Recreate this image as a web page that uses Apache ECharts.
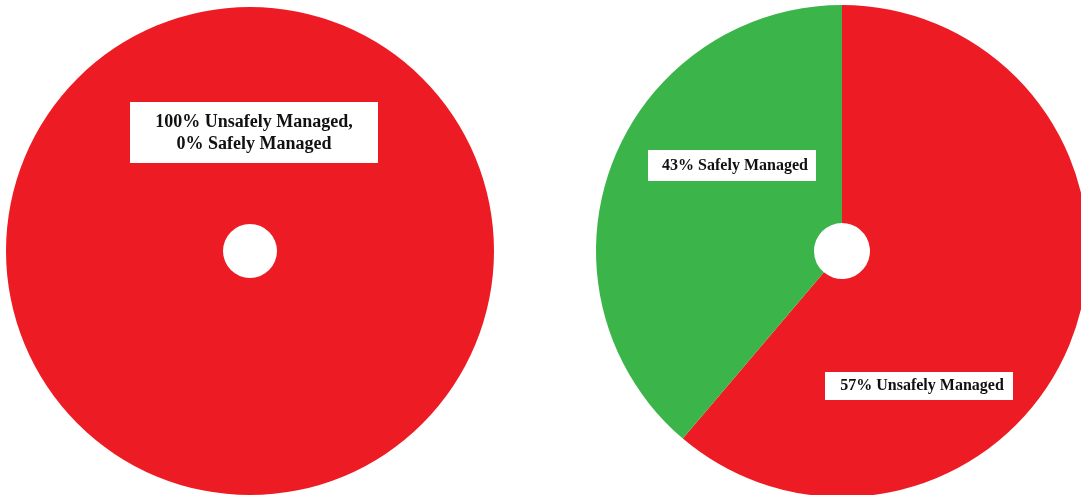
<!DOCTYPE html>
<html>
<head>
<meta charset="utf-8">
<script src="https://cdn.jsdelivr.net/npm/echarts@6/dist/echarts.min.js"></script>
<style>
html,body{margin:0;padding:0;background:#fff;}
#chart{width:1081px;height:495px;}
</style>
</head>
<body>
<div id="chart"></div>
<script>
// Categories and values
var categories = ['Unsafely Managed', 'Safely Managed'];
var leftValues = [100, 0];
// Slice shares as drawn in the reference picture (boundary measured at ~220° from top)
var rightValues = [61.2, 38.8];
var leftLabel = '100% Unsafely Managed,\n0% Safely Managed';
var rightLabels = ['57% Unsafely Managed', '43% Safely Managed'];
var colors = ['#ED1C24', '#3BB54A'];

function mkData(vals) {
  return vals.map(function (v, i) {
    return { name: categories[i], value: v, itemStyle: { color: colors[i] } };
  });
}

var chart = echarts.init(document.getElementById('chart'), null, { renderer: 'canvas' });
var font = '"Liberation Serif", "Times New Roman", serif';

chart.setOption({
  animation: false,
  backgroundColor: '#fff',
  series: [
    {
      type: 'pie',
      center: [250, 251],
      radius: [27, 244],
      startAngle: 90,
      clockwise: true,
      label: { show: false },
      labelLine: { show: false },
      emphasis: { disabled: true },
      itemStyle: { borderWidth: 0 },
      data: mkData(leftValues)
    },
    {
      type: 'pie',
      center: [842, 251],
      radius: [28, 246],
      startAngle: 90,
      clockwise: true,
      label: { show: false },
      labelLine: { show: false },
      emphasis: { disabled: true },
      itemStyle: { borderWidth: 0 },
      data: mkData(rightValues)
    }
  ],
  graphic: [
    { type: 'rect', shape: { x: 130, y: 102, width: 248, height: 61 }, style: { fill: '#fff' }, z: 10 },
    { type: 'text', x: 254, y: 133, z: 11,
      style: { text: leftLabel, font: 'bold 18px ' + font, fill: '#111', align: 'center', verticalAlign: 'middle', lineHeight: 22 } },
    { type: 'rect', shape: { x: 648, y: 150, width: 168, height: 31 }, style: { fill: '#fff' }, z: 10 },
    { type: 'text', x: 735, y: 166, z: 11,
      style: { text: rightLabels[1], font: 'bold 16px ' + font, fill: '#111', align: 'center', verticalAlign: 'middle' } },
    { type: 'rect', shape: { x: 825, y: 372, width: 188, height: 28 }, style: { fill: '#fff' }, z: 10 },
    { type: 'text', x: 922, y: 386, z: 11,
      style: { text: rightLabels[0], font: 'bold 16px ' + font, fill: '#111', align: 'center', verticalAlign: 'middle' } }
  ]
});
</script>
</body>
</html>
